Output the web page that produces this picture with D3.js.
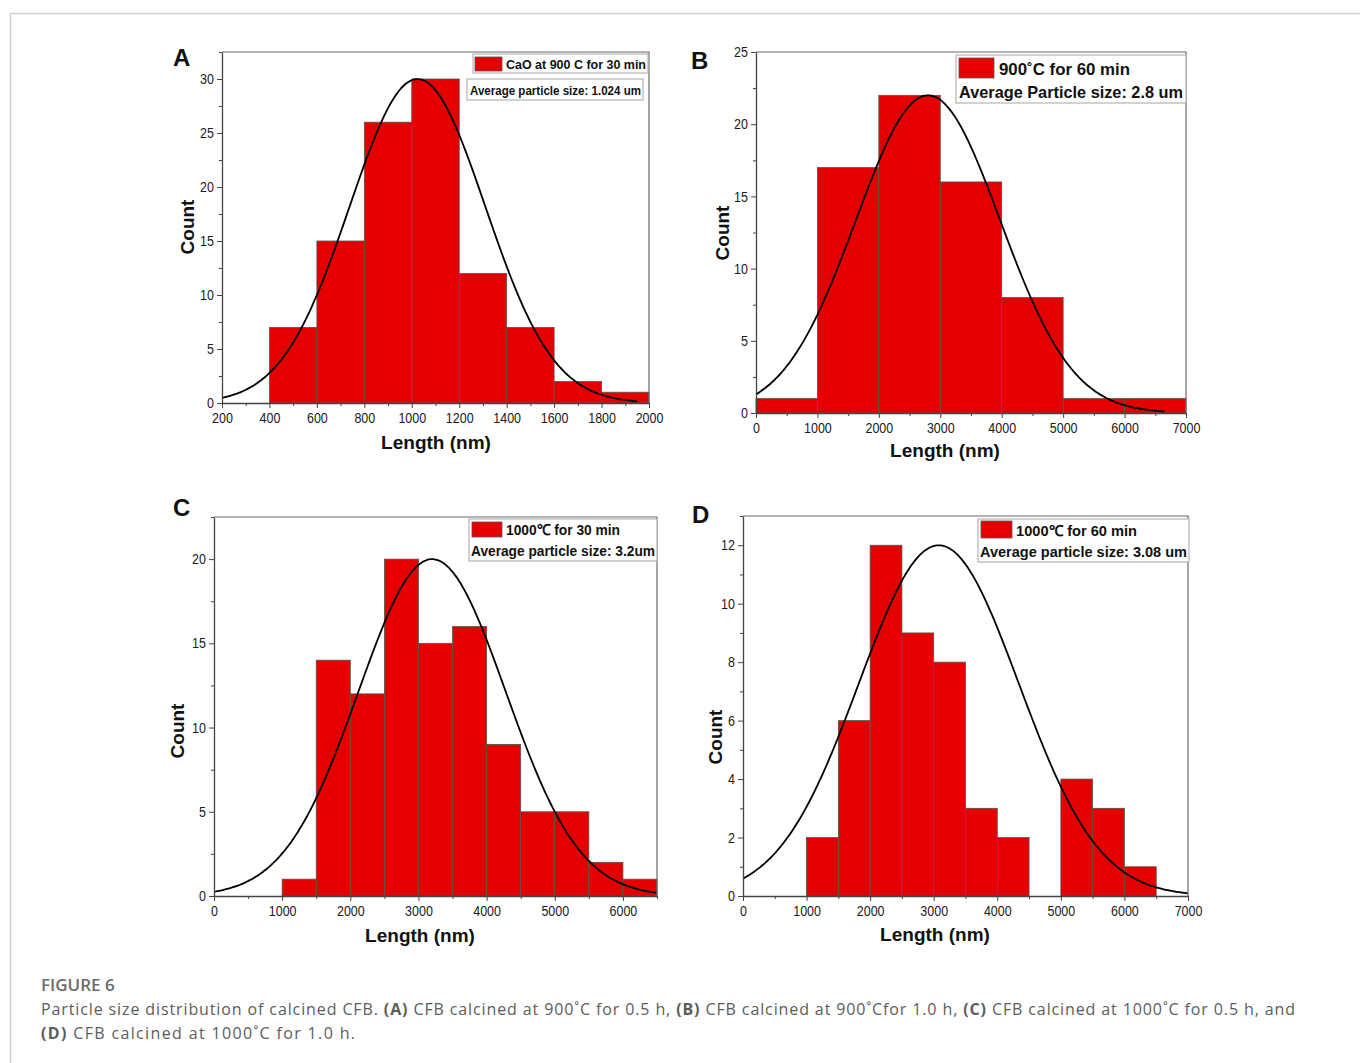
<!DOCTYPE html>
<html>
<head>
<meta charset="utf-8">
<script src="https://cdn.jsdelivr.net/npm/d3@7"></script>
<style>
  html, body { margin: 0; padding: 0; background: #fff; }
  svg { display: block; }
  .tick text { font-family: "Liberation Sans", Arial, sans-serif; font-size: 14.5px; fill: #1a1a1a; }
  .axis path, .axis line { stroke: #444; }
  .lab { font-family: "Liberation Sans", Arial, sans-serif; font-weight: bold; fill: #111; }
  .leg { font-family: "Liberation Sans", Arial, sans-serif; font-weight: bold; fill: #111; }
  .cap { font-family: "Open Sans", "Noto Sans", sans-serif; }
</style>
</head>
<body>
<script>
// ======== DATA ========
// A: CaO at 900 C for 30 min
const edgesA  = [400, 600, 800, 1000, 1200, 1400, 1600, 1800, 2000];
const countsA = [7, 15, 26, 30, 12, 7, 2, 1];
const fitA    = [1024, 286, 30, 200, 1950];   // mean, sigma, peak, from, to
const xTicksA = [200, 400, 600, 800, 1000, 1200, 1400, 1600, 1800, 2000];
const yTicksA = [0, 5, 10, 15, 20, 25, 30];

// B: 900 C for 60 min
const edgesB  = [0, 1000, 2000, 3000, 4000, 5000, 6000, 7000];
const countsB = [1, 17, 22, 16, 8, 1, 1];
const fitB    = [2800, 1175, 22, 0, 6650];
const xTicksB = [0, 1000, 2000, 3000, 4000, 5000, 6000, 7000];
const yTicksB = [0, 5, 10, 15, 20, 25];

// C: 1000 C for 30 min
const edgesC  = [1000, 1500, 2000, 2500, 3000, 3500, 4000, 4500, 5000, 5500, 6000, 6500];
const countsC = [1, 14, 12, 20, 15, 16, 9, 5, 5, 2, 1];
const fitC    = [3200, 1081, 20, 0, 6500];
const xTicksC = [0, 1000, 2000, 3000, 4000, 5000, 6000];
const yTicksC = [0, 5, 10, 15, 20];

// D: 1000 C for 60 min
const edgesD  = [1000, 1500, 2000, 2500, 3000, 3500, 4000, 4500, 5000, 5500, 6000, 6500];
const countsD = [2, 6, 12, 9, 8, 3, 2, 0, 4, 3, 1];
const fitD    = [3080, 1257, 12, 0, 7000];
const xTicksD = [0, 1000, 2000, 3000, 4000, 5000, 6000, 7000];
const yTicksD = [0, 2, 4, 6, 8, 10, 12];

const legendText = [
  ['CaO at 900 C for 30 min', 'Average particle size: 1.024 um'],
  ['900\u02DAC for 60 min', 'Average Particle size: 2.8 um'],
  ['1000\u2103 for 30 min', 'Average particle size: 3.2um'],
  ['1000\u2103 for 60 min', 'Average particle size: 3.08 um']
];
const panelLetters = ['A', 'B', 'C', 'D'];

const W = 1360, H = 1063;
const RED = '#e50000';

const svg = d3.select('body').append('svg')
    .attr('width', W).attr('height', H)
    .attr('viewBox', [0, 0, W, H]);

// outer figure frame (top + left only)
svg.append('path')
    .attr('d', `M10.5,${H} V13.5 H${W}`)
    .attr('fill', 'none').attr('stroke', '#cfcfcf').attr('stroke-width', 1.5);

const panels = [
  { edges: edgesA, counts: countsA, fit: fitA, xTicks: xTicksA, yTicks: yTicksA, xMinorStep: 100, yMinorStep: 2.5,
    xDomain: [200, 2000], yDomain: [0, 32.5], left: 222, right: 649, top: 52, bottom: 403,
    letter: [173, 66], count: [187, 227], length: [436, 449],
    legend: { type: 'split', box1: [473, 54, 648, 73], sw: [475, 57, 502, 71], t1: [506, 68.5, 140, 13],
              box2: [467, 79, 643, 100], t2: [470, 94.5, 171, 12.5] } },
  { edges: edgesB, counts: countsB, fit: fitB, xTicks: xTicksB, yTicks: yTicksB, xMinorStep: 500, yMinorStep: 2.5,
    xDomain: [0, 7000], yDomain: [0, 25], left: 756, right: 1186, top: 52, bottom: 413,
    letter: [691, 69], count: [722, 233], length: [945, 457],
    legend: { type: 'one', box: [956, 55, 1186, 103], sw: [959, 58, 994, 78], t1: [999, 75, 131, 17],
              t2: [959, 98, 224, 16.5] } },
  { edges: edgesC, counts: countsC, fit: fitC, xTicks: xTicksC, yTicks: yTicksC, xMinorStep: 500, yMinorStep: 2.5,
    xDomain: [0, 6500], yDomain: [0, 22.5], left: 214, right: 657, top: 517, bottom: 896,
    letter: [173, 516], count: [177, 731], length: [420, 942],
    legend: { type: 'one', box: [469, 519, 657, 561], sw: [472, 522, 502, 537], t1: [506, 535, 114, 15],
              t2: [471, 556, 184, 14.5] } },
  { edges: edgesD, counts: countsD, fit: fitD, xTicks: xTicksD, yTicks: yTicksD, xMinorStep: 500, yMinorStep: 1,
    xDomain: [0, 7000], yDomain: [0, 13], left: 743, right: 1188, top: 516, bottom: 896,
    letter: [692, 523], count: [715, 737], length: [935, 941],
    legend: { type: 'one', box: [978, 519, 1189, 562], sw: [981, 521, 1012, 538], t1: [1016, 536, 121, 15],
              t2: [980, 557, 207, 15] } }
];

panels.forEach((p, i) => drawPanel(p, i));

function minorValues(domain, step, major) {
  const out = [];
  for (let v = domain[0]; v <= domain[1] + 1e-9; v += step) {
    if (!major.some(m => Math.abs(m - v) < 1e-6)) out.push(v);
  }
  return out;
}

// squeeze tick labels a bit, the original uses a narrow face
function narrowTicks(a) {
  a.selectAll('.tick text').each(function () {
    const w = this.getComputedTextLength();
    d3.select(this).attr('textLength', w * 0.86).attr('lengthAdjust', 'spacingAndGlyphs');
  });
}

function drawPanel(p, idx) {
  const g = svg.append('g').attr('class', 'panel');
  const x = d3.scaleLinear().domain(p.xDomain).range([p.left, p.right]);
  const y = d3.scaleLinear().domain(p.yDomain).range([p.bottom, p.top]);

  // histogram bars
  const bins = p.counts.map((c, i) => ({ x0: p.edges[i], x1: p.edges[i + 1], c }))
      .filter(d => d.c > 0);
  g.selectAll('rect.bar').data(bins).join('rect')
      .attr('class', 'bar')
      .attr('x', d => x(d.x0))
      .attr('y', d => y(d.c))
      .attr('width', d => x(d.x1) - x(d.x0))
      .attr('height', d => y(0) - y(d.c))
      .attr('fill', RED)
      .attr('stroke', '#555')
      .attr('stroke-width', 0.8);

  // normal fit curve
  const [mu, sd, peak, from, to] = p.fit;
  const xs = d3.range(0, 201).map(k => from + (to - from) * k / 200);
  const line = d3.line()
      .x(v => x(v))
      .y(v => y(peak * Math.exp(-((v - mu) ** 2) / (2 * sd * sd))))
      .curve(d3.curveBasis);
  g.append('path').datum(xs)
      .attr('d', line)
      .attr('fill', 'none').attr('stroke', '#000').attr('stroke-width', 1.8);

  // frame: top and right
  g.append('path')
      .attr('d', `M${p.left},${p.top} H${p.right} V${p.bottom}`)
      .attr('fill', 'none').attr('stroke', '#6a6a6a').attr('stroke-width', 1.2);

  // axes: minor ticks first, then major
  g.append('g').attr('class', 'axis')
      .attr('transform', `translate(0,${p.bottom})`)
      .call(d3.axisBottom(x).tickValues(minorValues(p.xDomain, p.xMinorStep, p.xTicks)).tickSize(3).tickFormat(''))
      .call(a => a.select('.domain').remove());
  g.append('g').attr('class', 'axis')
      .attr('transform', `translate(${p.left},0)`)
      .call(d3.axisLeft(y).tickValues(minorValues([0, p.yDomain[1]], p.yMinorStep, p.yTicks)).tickSize(3).tickFormat(''))
      .call(a => a.select('.domain').remove());

  g.append('g').attr('class', 'axis')
      .attr('transform', `translate(0,${p.bottom})`)
      .call(d3.axisBottom(x).tickValues(p.xTicks).tickSize(5).tickSizeOuter(0).tickPadding(5).tickFormat(d3.format('d')))
      .call(a => a.select('.domain').attr('stroke-width', 1.3))
      .call(narrowTicks);
  g.append('g').attr('class', 'axis')
      .attr('transform', `translate(${p.left},0)`)
      .call(d3.axisLeft(y).tickValues(p.yTicks).tickSize(5).tickSizeOuter(0).tickPadding(3).tickFormat(d3.format('d')))
      .call(a => a.select('.domain').attr('stroke-width', 1.3))
      .call(narrowTicks);

  // panel letter
  g.append('text').attr('class', 'lab')
      .attr('x', p.letter[0]).attr('y', p.letter[1])
      .style('font-size', '24px').text(panelLetters[idx]);

  // axis titles
  g.append('text').attr('class', 'lab')
      .attr('transform', `translate(${p.count[0] + 7},${p.count[1]}) rotate(-90)`)
      .attr('text-anchor', 'middle')
      .style('font-size', '19px').text('Count');
  g.append('text').attr('class', 'lab')
      .attr('x', p.length[0]).attr('y', p.length[1])
      .attr('text-anchor', 'middle')
      .style('font-size', '19px').text('Length (nm)');

  // legend
  const L = p.legend;
  const lg = g.append('g').attr('class', 'legend');
  const box = (b) => lg.append('rect')
      .attr('x', b[0]).attr('y', b[1]).attr('width', b[2] - b[0]).attr('height', b[3] - b[1])
      .attr('fill', '#fff').attr('stroke', '#b5b5b5').attr('stroke-width', 1.2);
  if (L.type === 'split') { box(L.box1); box(L.box2); } else { box(L.box); }
  lg.append('rect')
      .attr('x', L.sw[0]).attr('y', L.sw[1]).attr('width', L.sw[2] - L.sw[0]).attr('height', L.sw[3] - L.sw[1])
      .attr('fill', RED).attr('stroke', '#555').attr('stroke-width', 0.8);
  [L.t1, L.t2].forEach((t, k) => {
    lg.append('text').attr('class', 'leg')
        .attr('x', t[0]).attr('y', t[1])
        .attr('textLength', t[2]).attr('lengthAdjust', 'spacingAndGlyphs')
        .style('font-size', t[3] + 'px')
        .text(legendText[idx][k]);
  });
}

// caption
svg.append('text').attr('class', 'cap')
    .attr('x', 41).attr('y', 991)
    .style('font-size', '17px').style('font-weight', 600).attr('fill', '#6b6b6b')
    .text('FIGURE 6');

const capLines = [
  [['Particle size distribution of calcined CFB. ', 0], ['(A)', 1], [' CFB calcined at 900\u02DAC for 0.5 h, ', 0], ['(B)', 1],
   [' CFB calcined at 900\u02DACfor 1.0 h, ', 0], ['(C)', 1], [' CFB calcined at 1000\u02DAC for 0.5 h, and', 0]],
  [['(D)', 1], [' CFB calcined at 1000\u02DAC for 1.0 h.', 0]]
];
const capWidths = [1254, 314];
capLines.forEach((parts, li) => {
  const t = svg.append('text').attr('class', 'cap')
      .attr('x', 41).attr('y', 1015 + li * 24)
      .attr('textLength', capWidths[li]).attr('lengthAdjust', 'spacing')
      .style('font-size', '16px').attr('fill', '#5c5c5c');
  parts.forEach(([s, b]) => t.append('tspan').style('font-weight', b ? 700 : 400).text(s));
});
</script>
</body>
</html>
